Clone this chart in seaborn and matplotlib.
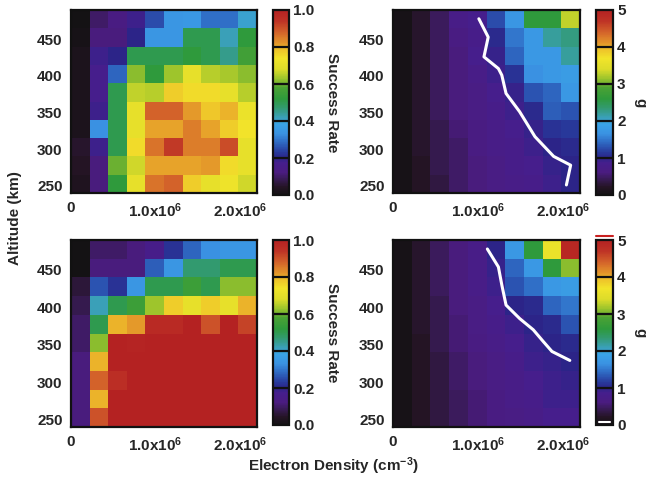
import numpy as np
import pandas as pd
import matplotlib
matplotlib.use("Agg")
import matplotlib.pyplot as plt
from matplotlib.colors import LinearSegmentedColormap
import seaborn as sns

# ---- grid definition -------------------------------------------------------
density_edges = [0, 2.2e5, 4.4e5, 6.6e5, 8.8e5, 1.1e6, 1.32e6, 1.54e6, 1.76e6, 1.98e6, 2.2e6]
altitude_edges = [490, 465, 440, 415, 390, 365, 340, 315, 290, 265, 240]  # top -> bottom

density_ticks = [0, 1.0e6, 2.0e6]
density_ticklabels = ["0", "1.0x10$^{6}$", "2.0x10$^{6}$"]
density_minor = [0.5e6, 1.5e6]
altitude_ticks = [250, 300, 350, 400, 450]

rate_ticks = [0.0, 0.2, 0.4, 0.6, 0.8, 1.0]
rate_ticklabels = ["0.0", "0.2", "0.4", "0.6", "0.8", "1.0"]
g_ticks = [0, 1, 2, 3, 4, 5]
g_ticklabels = ["0", "1", "2", "3", "4", "5"]

# ---- success rate, observed (rows: altitude top -> bottom) -------------------
success_obs = [
    [0.00, 0.10, 0.13, 0.18, 0.25, 0.34, 0.35, 0.29, 0.29, 0.40],
    [0.01, 0.12, 0.12, 0.20, 0.34, 0.34, 0.50, 0.50, 0.42, 0.52],
    [0.02, 0.18, 0.20, 0.50, 0.50, 0.50, 0.52, 0.50, 0.45, 0.56],
    [0.02, 0.17, 0.28, 0.62, 0.52, 0.63, 0.71, 0.65, 0.64, 0.62],
    [0.02, 0.17, 0.50, 0.66, 0.65, 0.77, 0.75, 0.75, 0.71, 0.65],
    [0.02, 0.18, 0.50, 0.71, 0.88, 0.88, 0.82, 0.78, 0.80, 0.72],
    [0.02, 0.33, 0.50, 0.71, 0.81, 0.81, 0.85, 0.81, 0.77, 0.74],
    [0.05, 0.18, 0.50, 0.75, 0.86, 0.93, 0.85, 0.85, 0.91, 0.71],
    [0.04, 0.12, 0.60, 0.67, 0.81, 0.81, 0.81, 0.82, 0.75, 0.71],
    [0.03, 0.12, 0.52, 0.71, 0.86, 0.88, 0.77, 0.71, 0.73, 0.67],
]

# ---- success rate, simulated -------------------------------------------------
success_sim = [
    [0.00, 0.10, 0.10, 0.12, 0.16, 0.22, 0.28, 0.33, 0.34, 0.34],
    [0.00, 0.12, 0.12, 0.12, 0.27, 0.34, 0.47, 0.47, 0.50, 0.50],
    [0.06, 0.26, 0.22, 0.34, 0.50, 0.50, 0.55, 0.50, 0.62, 0.62],
    [0.08, 0.42, 0.50, 0.55, 0.63, 0.77, 0.71, 0.77, 0.71, 0.80],
    [0.10, 0.50, 0.80, 0.82, 0.97, 0.97, 1.00, 0.90, 1.00, 0.92],
    [0.10, 0.62, 1.00, 0.99, 1.00, 1.00, 1.00, 1.00, 1.00, 1.00],
    [0.12, 0.80, 1.00, 1.00, 1.00, 1.00, 1.00, 1.00, 1.00, 1.00],
    [0.12, 0.88, 0.96, 1.00, 1.00, 1.00, 1.00, 1.00, 1.00, 1.00],
    [0.12, 0.80, 1.00, 1.00, 1.00, 1.00, 1.00, 1.00, 1.00, 1.00],
    [0.12, 0.90, 1.00, 1.00, 1.00, 1.00, 1.00, 1.00, 1.00, 1.00],
]

# ---- g, observed ----------------------------------------------------------------
g_obs = [
    [0.05, 0.25, 0.45, 0.75, 0.85, 1.25, 1.70, 2.60, 2.60, 3.30],
    [0.05, 0.25, 0.45, 0.65, 0.80, 1.05, 1.50, 1.75, 2.20, 2.30],
    [0.05, 0.25, 0.45, 0.60, 0.85, 0.95, 1.40, 1.75, 1.75, 2.20],
    [0.05, 0.25, 0.45, 0.60, 0.75, 0.90, 1.10, 1.65, 1.75, 1.80],
    [0.05, 0.25, 0.45, 0.60, 0.70, 0.85, 0.95, 1.30, 1.40, 1.75],
    [0.05, 0.25, 0.45, 0.60, 0.70, 0.80, 0.90, 1.05, 1.35, 1.30],
    [0.05, 0.25, 0.40, 0.55, 0.65, 0.75, 0.85, 0.95, 1.10, 1.15],
    [0.05, 0.25, 0.40, 0.50, 0.65, 0.75, 0.80, 0.90, 1.00, 1.05],
    [0.05, 0.20, 0.40, 0.50, 0.60, 0.70, 0.80, 0.85, 0.95, 1.00],
    [0.05, 0.20, 0.35, 0.50, 0.60, 0.70, 0.75, 0.80, 0.90, 1.00],
]
g_obs_line_density = [1.01e6, 1.12e6, 1.07e6, 1.24e6, 1.28e6, 1.33e6, 1.49e6, 1.67e6, 1.89e6, 2.09e6, 2.04e6]
g_obs_line_altitude = [478, 453, 426, 410, 401, 376, 351, 317, 290, 278, 251]

# ---- g, simulated ---------------------------------------------------------------
g_sim = [
    [0.05, 0.25, 0.45, 0.60, 0.75, 1.00, 1.75, 2.60, 3.60, 4.90],
    [0.05, 0.25, 0.45, 0.60, 0.75, 0.95, 1.40, 1.75, 2.60, 3.10],
    [0.05, 0.25, 0.45, 0.60, 0.75, 0.90, 1.30, 1.45, 1.75, 1.80],
    [0.05, 0.25, 0.40, 0.60, 0.70, 0.85, 1.00, 1.05, 1.40, 1.50],
    [0.05, 0.25, 0.40, 0.55, 0.70, 0.80, 0.90, 1.00, 1.05, 1.30],
    [0.05, 0.20, 0.40, 0.55, 0.65, 0.75, 0.85, 0.95, 1.00, 1.05],
    [0.05, 0.20, 0.35, 0.50, 0.60, 0.70, 0.80, 0.90, 0.95, 1.00],
    [0.05, 0.20, 0.35, 0.50, 0.60, 0.70, 0.75, 0.85, 0.90, 0.95],
    [0.05, 0.20, 0.35, 0.45, 0.55, 0.65, 0.75, 0.80, 0.90, 0.90],
    [0.05, 0.20, 0.35, 0.45, 0.55, 0.65, 0.70, 0.75, 0.85, 0.85],
]
g_sim_line_density = [1.11e6, 1.24e6, 1.28e6, 1.33e6, 1.49e6, 1.65e6, 1.77e6, 1.87e6, 2.08e6]
g_sim_line_altitude = [478, 454, 430, 403, 385, 370, 354, 341, 329]

# ---- style -----------------------------------------------------------------------
sns.set_style("white")
plt.rcParams["font.family"] = ["Liberation Sans", "DejaVu Sans"]
plt.rcParams["font.weight"] = "bold"
plt.rcParams["mathtext.fontset"] = "custom"
plt.rcParams["mathtext.rm"] = "Liberation Sans:bold"
plt.rcParams["mathtext.it"] = "Liberation Sans:bold"
plt.rcParams["mathtext.bf"] = "Liberation Sans:bold"
FS = 11

rainbow = LinearSegmentedColormap.from_list("idl_rainbow", [
    (0.00, "#141214"), (0.04, "#241424"), (0.08, "#361a50"), (0.12, "#4a1c80"),
    (0.17, "#461e8c"), (0.20, "#2c2488"), (0.23, "#283a9c"), (0.28, "#2e66c0"),
    (0.33, "#3a92e2"), (0.38, "#3aa2e6"), (0.42, "#3aa0b8"), (0.47, "#329a70"),
    (0.52, "#2e9a3c"), (0.58, "#4aa234"), (0.63, "#9cc42c"), (0.68, "#dcdc2a"),
    (0.74, "#f2e42a"), (0.79, "#eec02a"), (0.82, "#e4982a"), (0.88, "#d4642a"),
    (0.94, "#bf3426"), (1.00, "#b42222"),
])

fig = plt.figure(figsize=(6.5, 4.8), dpi=100)
W, H = 650.0, 480.0


def box(x0, y0, x1, y1):
    return [x0 / W, 1 - y1 / H, (x1 - x0) / W, (y1 - y0) / H]


dens_idx = np.arange(len(density_edges))
alt_inc = altitude_edges[::-1]
alt_idx = np.arange(len(altitude_edges))[::-1]


def to_x(d):
    return np.interp(d, density_edges, dens_idx)


def to_y(a):
    return np.interp(a, alt_inc, alt_idx)


def panel(axbox, cbbox, grid, vmax, cticks, clabels, ctitle, ctitle_x,
          line_d=None, line_a=None):
    ax = fig.add_axes(box(*axbox))
    cax = fig.add_axes(box(*cbbox))
    centers_a = [(a + b) / 2 for a, b in zip(altitude_edges[:-1], altitude_edges[1:])]
    centers_d = [(a + b) / 2 for a, b in zip(density_edges[:-1], density_edges[1:])]
    df = pd.DataFrame(grid, index=centers_a, columns=centers_d)
    sns.heatmap(df, ax=ax, cmap=rainbow, vmin=0, vmax=vmax, cbar_ax=cax,
                xticklabels=False, yticklabels=False,
                cbar_kws={"ticks": cticks})
    if line_d is not None:
        ax.plot(to_x(line_d), to_y(line_a), color="white", lw=2.2,
                solid_capstyle="round", solid_joinstyle="round")
    for s in ax.spines.values():
        s.set_visible(True)
        s.set_linewidth(1.6)
        s.set_color("#111111")
    ax.set_xticks(to_x(density_ticks))
    ax.set_xticklabels(density_ticklabels, fontsize=FS, fontweight="bold")
    ax.set_xticks(to_x(density_minor), minor=True)
    ax.set_yticks(to_y(altitude_ticks))
    ax.set_yticklabels([str(a) for a in altitude_ticks], fontsize=FS,
                       fontweight="bold", rotation=0)
    ax.tick_params(which="both", direction="in", top=True, right=True,
                   bottom=True, left=True, color="#111111", width=1.0)
    ax.tick_params(which="major", length=4, pad=6)
    ax.tick_params(which="minor", length=2.5)
    ax.set_xlabel("")
    ax.set_ylabel("")

    cb = ax.collections[0].colorbar
    cb.outline.set_linewidth(1.6)
    cb.outline.set_edgecolor("#111111")
    cax.set_yticks(cticks)
    cax.set_yticklabels(clabels, fontsize=FS, fontweight="bold")
    cax.tick_params(length=0, pad=3)
    for t in cticks[1:-1]:
        cax.axhline(t, color="#111111", lw=1.6)
    cy = (cbbox[1] + cbbox[3]) / 2
    fig.text(ctitle_x / W, 1 - cy / H, ctitle, rotation=-90, ha="center",
             va="center", fontsize=FS, fontweight="bold")
    return ax, cax


panel((71, 10, 257, 193), (273, 10, 289, 195), success_obs, 1.0,
      rate_ticks, rate_ticklabels, "Success Rate", 332)
panel((393, 10, 580, 193), (596, 10, 613, 195), g_obs, 5.0,
      g_ticks, g_ticklabels, "g", 640, g_obs_line_density, g_obs_line_altitude)
panel((71, 240, 257, 427), (273, 240, 289, 425), success_sim, 1.0,
      rate_ticks, rate_ticklabels, "Success Rate", 332)
ax4, cax4 = panel((393, 240, 580, 427), (596, 240, 613, 425), g_sim, 5.0,
                  g_ticks, g_ticklabels, "g", 640, g_sim_line_density, g_sim_line_altitude)

# out-of-range markers on the last colour bar
cax4.plot([0, 1], [5.12, 5.12], color="#c82020", lw=1.5, clip_on=False,
          transform=cax4.get_yaxis_transform())
cax4.plot([0.15, 0.85], [0.08, 0.08], color="white", lw=1.5,
          transform=cax4.get_yaxis_transform())

fig.text(15 / W, 1 - 218 / H, "Altitude (km)", rotation=90, ha="center",
         va="center", fontsize=FS, fontweight="bold")
fig.text(333 / W, 1 - 466 / H, "Electron Density (cm$^{-3}$)", ha="center",
         va="center", fontsize=FS, fontweight="bold")

fig.savefig("out.png", dpi=100)
